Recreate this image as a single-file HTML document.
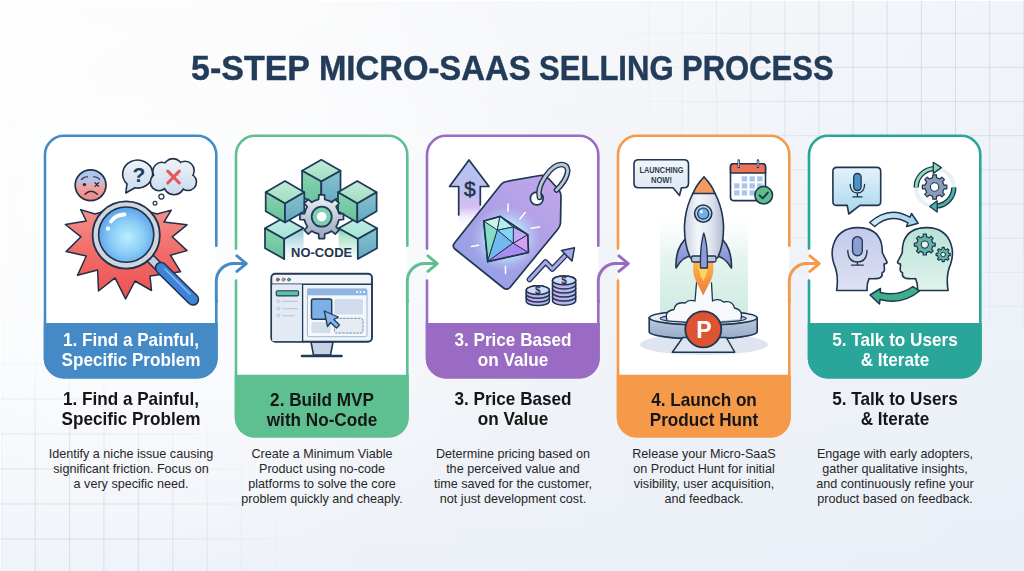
<!DOCTYPE html>
<html><head><meta charset="utf-8">
<style>
html,body{margin:0;padding:0;}
body{width:1024px;height:571px;overflow:hidden;position:relative;font-family:"Liberation Sans",sans-serif;
background:linear-gradient(to bottom,rgba(230,236,246,0) 0%,rgba(230,236,246,0.62) 100%),linear-gradient(to right,#fdfdfd 0%,#f7f8fa 45%,#f1f4f9 100%);}
#bg{position:absolute;left:0;top:0;width:1024px;height:571px;background:radial-gradient(ellipse 480px 380px at 120px 220px,rgba(255,255,255,0.85) 0%,rgba(255,255,255,0.5) 50%,rgba(255,255,255,0) 100%);}
.grid{position:absolute;background-image:linear-gradient(to right,rgba(178,186,200,0.36) 1px,transparent 1px),linear-gradient(to bottom,rgba(178,186,200,0.36) 1px,transparent 1px);}
#g1{left:600px;top:0;width:424px;height:330px;background-size:34.15px 34.15px;background-position:13.6px 32.8px;-webkit-mask-image:radial-gradient(ellipse 420px 320px at 424px 40px,#000 50%,transparent 100%);}
#g2{left:0;top:330px;width:330px;height:241px;background-size:34.4px 35px;background-position:0.3px 33.5px;-webkit-mask-image:radial-gradient(ellipse 300px 230px at 0px 241px,#000 55%,transparent 100%);}
svg{position:absolute;left:0;top:0;}
.t{position:absolute;white-space:nowrap;text-align:center;}
.tw{position:absolute;top:48px;font-size:35px;font-weight:700;color:#233c5a;-webkit-text-stroke:0.45px #233c5a;line-height:40px;white-space:nowrap;transform-origin:0 0;}
.band{position:absolute;width:174px;text-align:center;font-weight:700;font-size:18.2px;line-height:19.9px;transform:scaleX(0.942);}
.hd{position:absolute;width:174px;text-align:center;font-weight:700;font-size:18.2px;line-height:19.9px;color:#161616;transform:scaleX(0.942);}
.ds{position:absolute;width:200px;text-align:center;font-size:12.6px;line-height:14.9px;color:#262626;}
</style></head>
<body>
<div id="bg"></div>
<div class="grid" id="g1"></div>
<div class="grid" id="g2"></div>
<div style="position:absolute;left:0;top:0;width:1024px;height:1px;background:#fff"></div>
<div style="position:absolute;left:0;top:0;width:1px;height:571px;background:rgba(255,255,255,0.9)"></div>

<svg width="1024" height="571" viewBox="0 0 1024 571">
  <!-- card backgrounds -->
  <g><rect x="45" y="135.8" width="171.3" height="241.4" rx="19" fill="#fff"/><rect x="236" y="135.8" width="171.3" height="300.5" rx="19" fill="#fff"/><rect x="427" y="135.8" width="171.3" height="241.4" rx="19" fill="#fff"/><rect x="618" y="135.8" width="171.3" height="300.5" rx="19" fill="#fff"/><rect x="809" y="135.8" width="171.3" height="241.4" rx="19" fill="#fff"/></g>
  <!-- bands -->
  <path d="M43.8 323 H217.8 V358.4 a20 20 0 0 1 -20 20 H63.8 a20 20 0 0 1 -20 -20 Z" fill="#448ac6"/>
  <path d="M234.8 374.7 H408.8 V417.5 a20 20 0 0 1 -20 20 H254.8 a20 20 0 0 1 -20 -20 Z" fill="#5ebf91"/>
  <path d="M425.8 323 H599.8 V358.4 a20 20 0 0 1 -20 20 H445.8 a20 20 0 0 1 -20 -20 Z" fill="#9a6bc2"/>
  <path d="M616.8 374.7 H790.8 V417.5 a20 20 0 0 1 -20 20 H636.8 a20 20 0 0 1 -20 -20 Z" fill="#f49a48"/>
  <path d="M807.8 323 H981.8 V358.4 a20 20 0 0 1 -20 20 H827.8 a20 20 0 0 1 -20 -20 Z" fill="#2aa59a"/>


  <defs>
    <linearGradient id="faceG" x1="0" y1="0" x2="0" y2="1">
      <stop offset="0" stop-color="#a8c6f2"/><stop offset="0.35" stop-color="#b9c3e6"/><stop offset="0.55" stop-color="#f0a4a2"/><stop offset="1" stop-color="#f28282"/>
    </linearGradient>
    <linearGradient id="burstG" x1="0" y1="0" x2="0" y2="1">
      <stop offset="0" stop-color="#f5948e"/><stop offset="0.5" stop-color="#f16c69"/><stop offset="1" stop-color="#ec5150"/>
    </linearGradient>
    <radialGradient id="lensG" cx="0.52" cy="0.55" r="0.6">
      <stop offset="0" stop-color="#b9eefe"/><stop offset="0.5" stop-color="#8bcdf6"/><stop offset="1" stop-color="#4f97e6"/>
    </radialGradient>
    <linearGradient id="cloudG" gradientUnits="userSpaceOnUse" x1="0" y1="160" x2="0" y2="194"><stop offset="0" stop-color="#eef3f9"/><stop offset="1" stop-color="#c9dbed"/></linearGradient>
    <linearGradient id="bubG" x1="0" y1="0" x2="0" y2="1">
      <stop offset="0" stop-color="#eef3f9"/><stop offset="1" stop-color="#c9dbed"/>
    </linearGradient>
  </defs>
  <g id="ic1" stroke="#1f3048" stroke-linejoin="round" stroke-linecap="round">
    <polygon points="95,214 80.7,209.6 86.3,221 65.3,224.5 81,236.8 66.1,251.6 86.3,256 77.5,275.3 97.6,270 98.5,291 115,277.9 125.6,298.9 135,281 151.5,290.5 150,276 180.5,271.7 170.4,255.2 187,250.6 172.2,236.8 187,224.8 164,222 171.3,210.1 157,214 126,205" fill="url(#burstG)" stroke-width="1.5"/>
    <circle cx="90.6" cy="185.2" r="15.4" fill="url(#faceG)" stroke-width="1.7"/>
    <path d="M81.5 179.5 Q84 176.5 87.5 176.8 M93.8 176.8 Q97.3 176.5 99.7 179.5" fill="none" stroke-width="1.2"/>
    <circle cx="84.4" cy="184.6" r="1.7" fill="#1f3048" stroke="none"/>
    <path d="M95 182.8 L98.6 186.4 M98.6 182.8 L95 186.4" stroke-width="1.3"/>
    <path d="M85 194.3 Q91 188.3 97.4 194.3" fill="none" stroke-width="1.5"/>
    <path d="M125.8 193 L127 183.9 A15 14 0 1 1 134.9 187.8 Z" fill="url(#bubG)" stroke-width="1.6"/>
    <text x="138.8" y="182.3" font-family="Liberation Sans" font-weight="700" font-size="21" text-anchor="middle" fill="#1f3b5e" stroke="none">?</text>
    <g><circle cx="159" cy="182" r="7.5" fill="#1f3048" stroke="#1f3048" stroke-width="4"/><circle cx="162" cy="171.5" r="8" fill="#1f3048" stroke="#1f3048" stroke-width="4"/><circle cx="173" cy="168.3" r="8.5" fill="#1f3048" stroke="#1f3048" stroke-width="4"/><circle cx="185" cy="170.5" r="8" fill="#1f3048" stroke="#1f3048" stroke-width="4"/><circle cx="188" cy="182" r="7.3" fill="#1f3048" stroke="#1f3048" stroke-width="4"/><circle cx="174" cy="184.2" r="9.3" fill="#1f3048" stroke="#1f3048" stroke-width="4"/></g><g fill="url(#cloudG)" stroke="none"><circle cx="159" cy="182" r="7.9"/><circle cx="162" cy="171.5" r="8.4"/><circle cx="173" cy="168.3" r="8.9"/><circle cx="185" cy="170.5" r="8.4"/><circle cx="188" cy="182" r="7.7"/><circle cx="174" cy="184.2" r="9.7"/></g>
    <path d="M167.8 171.2 L179.3 183 M179.3 171.2 L167.8 183" stroke="#e8565b" stroke-width="3.1"/>
    <circle cx="161.4" cy="196.6" r="2.5" fill="#fff" stroke-width="1.2"/>
    <circle cx="155" cy="203.2" r="1.9" fill="#fff" stroke-width="1.2"/>
    <path d="M150.5 258.5 L159 267" stroke="#1f3048" stroke-width="10"/>
    <path d="M150.5 258.5 L159 267" stroke="#c3ccd8" stroke-width="7"/>
    <path d="M161 268 L193 299.5" stroke="#1f3048" stroke-width="12.5"/>
    <path d="M161 268 L193 299.5" stroke="#3f83d8" stroke-width="9.5"/>
    <path d="M165 269 L190 294" stroke="#8cbaf0" stroke-width="1.6"/>
    <circle cx="126.2" cy="235" r="33.6" fill="#cdd5e0" stroke-width="1.8"/>
    <circle cx="126.2" cy="234.6" r="27.6" fill="url(#lensG)" stroke-width="1.6"/>
    <path d="M111 221.5 Q116 214.5 124.5 214.5" fill="none" stroke="#fff" stroke-width="3.8"/>
    <circle cx="108" cy="228.6" r="2.2" fill="#fff" stroke="none"/>
  </g>


  <defs>
    <linearGradient id="cTop" x1="0" y1="0" x2="0" y2="1"><stop offset="0" stop-color="#c4ecd9"/><stop offset="1" stop-color="#9fdcc0"/></linearGradient>
    <linearGradient id="cL" x1="0" y1="0" x2="0" y2="1"><stop offset="0" stop-color="#86d5b0"/><stop offset="1" stop-color="#66c09a"/></linearGradient>
    <linearGradient id="cR" x1="0" y1="0" x2="0" y2="1"><stop offset="0" stop-color="#86c2d0"/><stop offset="1" stop-color="#66a7c0"/></linearGradient>
    <linearGradient id="cTop2" x1="0" y1="0" x2="0" y2="1"><stop offset="0" stop-color="#bfeee6"/><stop offset="1" stop-color="#a4e2d6"/></linearGradient>
    <linearGradient id="gearG" x1="0" y1="0" x2="0" y2="1"><stop offset="0" stop-color="#eef1f7"/><stop offset="1" stop-color="#98a4bd"/></linearGradient>
    <linearGradient id="fadeR" x1="0" y1="0" x2="0" y2="1"><stop offset="0" stop-color="#8cc6d3"/><stop offset="0.55" stop-color="#d5eaf0"/><stop offset="1" stop-color="#ffffff"/></linearGradient>
    <linearGradient id="fadeL" x1="0" y1="0" x2="0" y2="1"><stop offset="0" stop-color="#8ad6b2"/><stop offset="0.55" stop-color="#d3efe2"/><stop offset="1" stop-color="#ffffff"/></linearGradient>
    <linearGradient id="fadeW" x1="0" y1="0" x2="0" y2="1"><stop offset="0" stop-color="#fff" stop-opacity="0"/><stop offset="0.45" stop-color="#fff" stop-opacity="0.9"/><stop offset="1" stop-color="#fff"/></linearGradient>
  </defs>
  <g id="ic2" stroke="#1f3b57" stroke-width="1.75" stroke-linejoin="round" stroke-linecap="round">
    <polygon points="284.2,217.5 303.5,228.3 284.2,239 265,228.3" fill="url(#cTop2)"/><polygon points="265,228.3 284.2,239 284.2,259 265,248.3" fill="url(#cL)"/><polygon points="284.2,239 303.5,228.3 303.5,248.3 284.2,259" fill="url(#fadeR)" stroke="none"/><path d="M284.2 239 L303.5 228.3 M284.2 239 V259" fill="none"/>
    <polygon points="357.8,217.5 377,228.3 357.8,239 338.5,228.3" fill="url(#cTop2)"/><polygon points="338.5,228.3 357.8,239 357.8,259 338.5,248.3" fill="url(#fadeL)" stroke="none"/><polygon points="357.8,239 377,228.3 377,248.3 357.8,259" fill="url(#cR)"/><path d="M338.5 228.3 L357.8 239" fill="none"/>
    <rect x="304" y="236" width="34" height="24" fill="url(#fadeW)" stroke="none"/>
    <polygon points="321.3,159.8 340.5,170.70000000000002 321.3,181.60000000000002 302.1,170.70000000000002" fill="url(#cTop)"/><polygon points="302.1,170.70000000000002 321.3,181.60000000000002 321.3,207.60000000000002 302.1,196.70000000000002" fill="url(#cL)"/><polygon points="321.3,181.60000000000002 340.5,170.70000000000002 340.5,196.70000000000002 321.3,207.60000000000002" fill="url(#cR)"/>
    <polygon points="285,181 304.3,192.2 285,203.4 265.7,192.2" fill="url(#cTop)"/><polygon points="265.7,192.2 285,203.4 285,222.4 265.7,211.2" fill="url(#cL)"/><polygon points="285,203.4 304.3,192.2 304.3,211.2 285,222.4" fill="url(#cR)"/>
    <polygon points="357.3,181 376.6,192.2 357.3,203.4 338.0,192.2" fill="url(#cTop)"/><polygon points="338.0,192.2 357.3,203.4 357.3,222.4 338.0,211.2" fill="url(#cL)"/><polygon points="357.3,203.4 376.6,192.2 376.6,211.2 357.3,222.4" fill="url(#cR)"/>
    <polygon points="338.1,210.7 338.9,213.6 343.5,213.9 343.5,219.5 338.9,219.8 337.6,224.0 336.1,226.7 339.1,230.2 335.2,234.1 331.7,231.1 327.7,233.1 324.8,233.9 324.5,238.5 318.9,238.5 318.6,233.9 314.4,232.6 311.7,231.1 308.2,234.1 304.3,230.2 307.3,226.7 305.3,222.7 304.5,219.8 299.9,219.5 299.9,213.9 304.5,213.6 305.8,209.4 307.3,206.7 304.3,203.2 308.2,199.3 311.7,202.3 315.7,200.3 318.6,199.5 318.9,194.9 324.5,194.9 324.8,199.5 329.0,200.8 331.7,202.3 335.2,199.3 339.1,203.2 336.1,206.7" fill="url(#gearG)"/>
    <circle cx="321.7" cy="216.7" r="10" fill="#7fd0b2"/>
    <circle cx="321.7" cy="216.7" r="4.8" fill="#fff" stroke="none"/>
    <text x="321.6" y="257" font-family="Liberation Sans" font-weight="700" font-size="13.6" text-anchor="middle" fill="#1f3550" stroke="none" textLength="61" lengthAdjust="spacingAndGlyphs">NO-CODE</text>
  </g>
  <g id="ic2b" stroke="#1f3b57" stroke-width="1.6" stroke-linejoin="round" stroke-linecap="round">
    <path d="M311 342 L313.5 355 H330.5 L333 342 Z" fill="#c4d2e4"/>
    <path d="M302 356 H341.5" stroke-width="2.6"/>
    <rect x="271.3" y="273.8" width="100.7" height="68" rx="4" fill="#f1f5fa" stroke-width="1.9"/>
    <path d="M271.3 284.3 H372" stroke-width="1.5"/>
    <rect x="272.2" y="284.3" width="30.4" height="56.8" fill="#e3eaf4" stroke="none"/>
    <path d="M302.6 284.3 V341.8" stroke-width="1.3"/>
    <circle cx="277.8" cy="279.6" r="1.5" fill="#e06060" stroke-width="0.6"/>
    <circle cx="283.5" cy="279.6" r="1.5" fill="#e8c24a" stroke-width="0.6"/>
    <circle cx="289" cy="279.6" r="1.5" fill="#5cb87e" stroke-width="0.6"/>
    <rect x="276.2" y="290.7" width="22.4" height="5.2" rx="1.5" fill="#5cc0a4" stroke-width="1.1"/>
    <g fill="#c8d4e4" stroke="none"><circle cx="278.4" cy="301.3" r="2.1"/><circle cx="278.4" cy="308.6" r="2.1"/><circle cx="278.4" cy="315.6" r="2.1"/></g>
    <path d="M283 301.3 H297.5 M283 308.6 H297.5 M283 315.6 H294" stroke="#b9c8da" stroke-width="1.2"/>
    <rect x="307.4" y="288.9" width="59.6" height="47.8" rx="1.5" fill="#f4f7fb" stroke="#9fb5d2" stroke-width="1"/>
    <rect x="307.4" y="288.9" width="59.6" height="6.4" fill="#8fb5e3" stroke="none"/>
    <g fill="#fff" stroke="none"><circle cx="357" cy="292.1" r="1"/><circle cx="360.5" cy="292.1" r="1"/><circle cx="364" cy="292.1" r="1"/></g>
    <rect x="334.4" y="299" width="28.6" height="15.6" rx="2" fill="#d0dcec" stroke="none"/>
    <rect x="311.5" y="322" width="19.3" height="11" rx="2" fill="#d3deeb" stroke="none"/>
    <rect x="334.4" y="318.3" width="28.6" height="14.7" rx="2" fill="#e6ecf4" stroke="#7e92ad" stroke-width="1" stroke-dasharray="2 1.6"/>
    <rect x="311.5" y="299" width="20.2" height="20.2" rx="2" fill="#7db0e7" stroke-width="1.5"/>
    <path d="M324.3 311 L327.5 326.5 L330.5 322.5 L336.5 328 L339.5 325 L333.8 319.5 L338.3 317 Z" fill="#86b6ec" stroke-width="1.3"/>
  </g>


  <defs>
    <linearGradient id="tagG" x1="0.9" y1="0" x2="0.1" y2="1"><stop offset="0" stop-color="#c2a6ea"/><stop offset="0.5" stop-color="#ab9fe6"/><stop offset="1" stop-color="#8ea2e6"/></linearGradient>
    <linearGradient id="upG" x1="0" y1="0" x2="0" y2="1"><stop offset="0" stop-color="#b4c2f0"/><stop offset="0.45" stop-color="#bfc0ef"/><stop offset="0.7" stop-color="#c9a9ee" stop-opacity="0.75"/><stop offset="1" stop-color="#ffffff" stop-opacity="0"/></linearGradient>
    <radialGradient id="glowG" cx="0.5" cy="0.5" r="0.5"><stop offset="0" stop-color="#d6fbff"/><stop offset="0.5" stop-color="#bdeefc" stop-opacity="0.85"/><stop offset="1" stop-color="#b3c6f3" stop-opacity="0"/></radialGradient>
    <linearGradient id="gemG" x1="0" y1="0" x2="1" y2="1"><stop offset="0" stop-color="#7fe3d2"/><stop offset="0.45" stop-color="#6cc6ee"/><stop offset="0.8" stop-color="#a78bf0"/><stop offset="1" stop-color="#d47be0"/></linearGradient>
    <linearGradient id="coinG" x1="0" y1="0" x2="1" y2="0"><stop offset="0" stop-color="#c7a9e8"/><stop offset="1" stop-color="#b3bdef"/></linearGradient>
  </defs>
  <g id="ic3" stroke="#1f3550" stroke-width="1.7" stroke-linejoin="round" stroke-linecap="round">
    <path d="M469 160 L489 186.5 H480.3 V228 H458.7 V186.5 H449.5 Z" fill="url(#upG)" stroke="none"/>
    <path d="M458.7 215 V186.5 H449.5 L469 160 L489 186.5 H480.3 V205" fill="none"/>
    <text x="469.8" y="196" font-family="Liberation Sans" font-weight="400" font-size="21" text-anchor="middle" fill="#1f3550" stroke="#1f3550" stroke-width="0.5">$</text>
    <path d="M506.5 181.5 L540 175.5 Q545 175 549 179 L559 190 Q561 193 561 197 L560.5 223 Q560.3 226 558 229 L510 287.5 Q507 290.5 503.5 288 L455.5 249.5 Q451.5 246.5 454.5 243 L501 184.5 Q503 182 506.5 181.5 Z" fill="url(#tagG)"/>
    <ellipse cx="506" cy="239" rx="35" ry="33" fill="url(#glowG)" stroke="none"/>
    <path d="M508.1 204 V211.2 M525.2 212.5 L519.9 219 M531.1 228.2 L539.6 226.9 M471.3 246.6 L478.5 245.3 M505.5 266.3 V273.6" stroke="#ffffff" stroke-width="1.5"/>
    <polygon points="483.8,221 500.2,216.4 497.6,230.2" fill="#cdf3e8" stroke-width="1"/><polygon points="500.2,216.4 513.3,227 497.6,230.2" fill="#b2eef0" stroke-width="1"/><polygon points="500.2,216.4 527.8,234.8 513.3,227" fill="#a2e2f3" stroke-width="1"/><polygon points="513.3,227 527.8,234.8 513.3,243.3" fill="#c3a9f3" stroke-width="1"/><polygon points="497.6,230.2 513.3,227 513.3,243.3" fill="#84d6f1" stroke-width="1"/><polygon points="483.8,221 497.6,230.2 487.7,261.7" fill="#86dcc6" stroke-width="1"/><polygon points="497.6,230.2 513.3,243.3 487.7,261.7" fill="#72b9ef" stroke-width="1"/><polygon points="513.3,243.3 527.8,234.8 528.5,252.5" fill="#d4a0f1" stroke-width="1"/><polygon points="513.3,243.3 528.5,252.5 487.7,261.7" fill="#a98cf1" stroke-width="1"/>
    <polygon points="483.8,221 500.2,216.4 527.8,234.8 528.5,252.5 487.7,261.7" fill="none" stroke-width="1.7"/>
    <circle cx="536.8" cy="198.5" r="6.4" fill="#fff"/>
    <path d="M539.5 197.5 C 536 186, 551 164, 562 164.5 C 572 165.5, 568 179, 556.5 190" fill="none" stroke="#1f3550" stroke-width="5.6"/>
    <path d="M539.5 197.5 C 536 186, 551 164, 562 164.5 C 572 165.5, 568 179, 556.5 190" fill="none" stroke="#bcc7d5" stroke-width="2.8"/>
    <path d="M529.5 279.5 L545.5 262 L552.3 269 L567 253.8" fill="none" stroke="#1f3550" stroke-width="5.6"/>
    <path d="M529.5 279.5 L545.5 262 L552.3 269 L567 253.8" fill="none" stroke="#a8a6ec" stroke-width="3.1"/>
    <path d="M561.5 250.5 L574.5 247.8 L572 261 Z" fill="#a8a6ec" stroke-width="1.5"/>
    <g stroke-width="1.5"><path d="M526.2 297.5 v3.7 a11.6 4.4 0 0 0 23.2 0 v-3.7 a11.6 4.4 0 0 0 -23.2 0 Z" fill="url(#coinG)"/><path d="M526.2 293.9 v3.7 a11.6 4.4 0 0 0 23.2 0 v-3.7 a11.6 4.4 0 0 0 -23.2 0 Z" fill="url(#coinG)"/><path d="M526.2 290.2 v3.7 a11.6 4.4 0 0 0 23.2 0 v-3.7 a11.6 4.4 0 0 0 -23.2 0 Z" fill="url(#coinG)"/><ellipse cx="537.8" cy="290.2" rx="11.6" ry="4.4" fill="#d3dbf7"/><path d="M552.5 296.7 v4.1 a11.6 4.4 0 0 0 23.2 0 v-4.1 a11.6 4.4 0 0 0 -23.2 0 Z" fill="url(#coinG)"/><path d="M552.5 292.6 v4.1 a11.6 4.4 0 0 0 23.2 0 v-4.1 a11.6 4.4 0 0 0 -23.2 0 Z" fill="url(#coinG)"/><path d="M552.5 288.6 v4.1 a11.6 4.4 0 0 0 23.2 0 v-4.1 a11.6 4.4 0 0 0 -23.2 0 Z" fill="url(#coinG)"/><path d="M552.5 284.5 v4.1 a11.6 4.4 0 0 0 23.2 0 v-4.1 a11.6 4.4 0 0 0 -23.2 0 Z" fill="url(#coinG)"/><path d="M552.5 280.4 v4.1 a11.6 4.4 0 0 0 23.2 0 v-4.1 a11.6 4.4 0 0 0 -23.2 0 Z" fill="url(#coinG)"/><ellipse cx="564.1" cy="280.4" rx="11.6" ry="4.4" fill="#d3dbf7"/></g><text x="537.8" y="293.6" font-family="Liberation Sans" font-weight="700" font-size="10" text-anchor="middle" fill="#1f3550" stroke="none">$</text><text x="564.1" y="283.8" font-family="Liberation Sans" font-weight="700" font-size="10" text-anchor="middle" fill="#1f3550" stroke="none">$</text>
  </g>


  <defs>
    <linearGradient id="mintG" x1="0" y1="0" x2="0" y2="1"><stop offset="0" stop-color="#ffffff" stop-opacity="0"/><stop offset="0.45" stop-color="#e6f5ef"/><stop offset="1" stop-color="#cdebe2"/></linearGradient>
    <linearGradient id="bodyG" x1="0" y1="0" x2="1" y2="0"><stop offset="0" stop-color="#c9d2e2"/><stop offset="0.35" stop-color="#f4f6fa"/><stop offset="0.7" stop-color="#dde3ee"/><stop offset="1" stop-color="#aeb9cf"/></linearGradient>
    <linearGradient id="finG" x1="0" y1="0" x2="0" y2="1"><stop offset="0" stop-color="#a9b4e4"/><stop offset="1" stop-color="#7d89cc"/></linearGradient>
    <linearGradient id="flameG" x1="0" y1="0" x2="0" y2="1"><stop offset="0" stop-color="#fbb44e"/><stop offset="1" stop-color="#ef7d3a"/></linearGradient>
    <linearGradient id="platG" x1="0" y1="0" x2="0" y2="1"><stop offset="0" stop-color="#bccbe0"/><stop offset="1" stop-color="#94abc9"/></linearGradient>
    <linearGradient id="bub4G" x1="0" y1="0" x2="0" y2="1"><stop offset="0" stop-color="#f1f5fa"/><stop offset="1" stop-color="#dbe6f2"/></linearGradient>
  </defs>
  <g id="ic4" stroke="#1f3550" stroke-width="1.6" stroke-linejoin="round" stroke-linecap="round">
    <rect x="660" y="206" width="88" height="110" fill="url(#mintG)" stroke="none"/>
    <ellipse cx="704" cy="344.5" rx="64" ry="10.5" fill="#dfe5ef" stroke="none"/>
    <path d="M649.2 317.8 V331.8 A54 7.2 0 0 0 757.2 331.8 V317.8" fill="url(#platG)"/>
    <ellipse cx="703.2" cy="317.8" rx="54" ry="7.2" fill="#e4ebf4"/>
    <ellipse cx="703.2" cy="318.4" rx="43" ry="4.2" fill="#b8c7db" stroke-width="1.3"/>
    <path d="M667 320 q-3 -9 7 -10.5 q1.5 -8 11 -6.5 q4 -4 10 -2 L696.5 283 H711.5 L712.5 301 q6 -3 11 1 q9 -2 11 6 q9 2 6.5 11 Q703 323 667 320 Z" fill="#f7f9fc" stroke="none"/>
    <path d="M667 320 q-3 -9 7 -10.5 q1.5 -8 11 -6.5 q4 -4 10 -2 L696.5 283 M711.5 283 L712.5 301 q6 -3 11 1 q9 -2 11 6 q9 2 6.5 11" fill="none" stroke-width="1.3"/>
    <path d="M682.8 337.5 H726.3 L734.7 352.2 H672.3 Z" fill="#dce6f2" stroke-width="1.5"/>
    <path d="M693.5 262 Q692 272 695.5 280 Q699 287 703.2 295.5 Q707.5 287 711 280 Q714.5 272 713 262 Z" fill="url(#flameG)" stroke="none"/>
    <path d="M698.5 263 Q698 272 703.2 281 Q708.5 272 708 263 Z" fill="#ffd45c" stroke="none"/>
    <path d="M689 236 Q675 246 676 268 Q683 256 692 256 Z" fill="url(#finG)"/>
    <path d="M718.5 236 Q732 246 731.5 268 Q724 256 715.5 256 Z" fill="url(#finG)"/>
    <path d="M704 177 Q686 198 684.5 225 Q684 245 690.5 258 H717.5 Q724 245 723.5 225 Q722 198 704 177 Z" fill="url(#bodyG)"/>
    <path d="M704 177 Q696 185 693.2 193.5 H714.8 Q712 185 704 177 Z" fill="#f39a61"/>
    <rect x="691.5" y="256" width="24.5" height="6" rx="1.5" fill="#b9c6dc" stroke-width="1.3"/>
    <path d="M703.8 233 Q700 245 700.5 268 H707.3 Q708 245 703.8 233 Z" fill="#8e9bd6" stroke-width="1.3"/>
    <circle cx="703.2" cy="213.6" r="8.6" fill="#b8cde8"/>
    <circle cx="703.2" cy="213.6" r="5.6" fill="#6fb0e6" stroke-width="1.2"/>
    <circle cx="701.3" cy="211.7" r="1.6" fill="#e6f4ff" stroke="none"/>
    <circle cx="703.3" cy="329.3" r="18" fill="#de5330" stroke-width="1.8"/>
    <text x="704" y="337.5" font-family="Liberation Sans" font-weight="700" font-size="23" text-anchor="middle" fill="#ffffff" stroke="none">P</text>
    <path d="M638.5 159.8 H684 Q688.5 159.8 688.5 164.3 V183.3 Q688.5 187.8 684 187.8 H681.5 L679.5 195.5 L673 187.8 H638.5 Q634 187.8 634 183.3 V164.3 Q634 159.8 638.5 159.8 Z" fill="url(#bub4G)"/>
    <text x="661.5" y="172.9" font-family="Liberation Sans" font-weight="700" font-size="8.8" text-anchor="middle" fill="#343c4a" stroke="none" textLength="44" lengthAdjust="spacingAndGlyphs">LAUNCHING</text>
    <text x="661.5" y="182.5" font-family="Liberation Sans" font-weight="700" font-size="8.8" text-anchor="middle" fill="#343c4a" stroke="none" textLength="21" lengthAdjust="spacingAndGlyphs">NOW!</text>
    <rect x="730.5" y="163.8" width="35" height="36.8" rx="3" fill="#ffffff"/>
    <path d="M730.5 173 V166.8 Q730.5 163.8 733.5 163.8 H762.5 Q765.5 163.8 765.5 166.8 V173 Z" fill="#ef7159"/>
    <path d="M738.7 160.5 V167 M758 160.5 V167" stroke-width="2.4"/>
    <path d="M738.7 160.9 V166.6 M758 160.9 V166.6" stroke="#e8edf4" stroke-width="0.9"/>
    <g fill="#a9c6e8" stroke="none"><rect x="741.8" y="176.3" width="5.4" height="5.2"/><rect x="749.5" y="176.3" width="5.4" height="5.2"/><rect x="757.2" y="176.3" width="5.4" height="5.2"/><rect x="734.1" y="183.3" width="5.4" height="5.2"/><rect x="741.8" y="183.3" width="5.4" height="5.2"/><rect x="749.5" y="183.3" width="5.4" height="5.2"/><rect x="757.2" y="183.3" width="5.4" height="5.2"/><rect x="734.1" y="190.3" width="5.4" height="5.2"/><rect x="741.8" y="190.3" width="5.4" height="5.2"/><rect x="749.5" y="190.3" width="5.4" height="5.2"/></g>
    <circle cx="763.7" cy="195.2" r="8.8" fill="#5dbf88"/>
    <path d="M759.6 195.4 L762.7 198.4 L767.8 192.6" fill="none" stroke-width="2"/>
  </g>


  <defs>
    <linearGradient id="micBubG" x1="0" y1="0" x2="0" y2="1"><stop offset="0" stop-color="#e3f3fa"/><stop offset="1" stop-color="#a9d6ec"/></linearGradient>
    <linearGradient id="headLG" x1="0" y1="0" x2="0" y2="1"><stop offset="0" stop-color="#c3cae9"/><stop offset="1" stop-color="#dde1f3"/></linearGradient>
    <linearGradient id="headRG" x1="0" y1="0" x2="0" y2="1"><stop offset="0" stop-color="#b7e2d6"/><stop offset="1" stop-color="#e1f3ee"/></linearGradient>
    <linearGradient id="arrTG" x1="0" y1="0" x2="1" y2="0"><stop offset="0" stop-color="#d3ecf7"/><stop offset="1" stop-color="#9fd0ea"/></linearGradient>
  </defs>
  <g id="ic5" stroke="#1f3550" stroke-width="1.6" stroke-linejoin="round" stroke-linecap="round">
    <path d="M837 167.4 H876.7 Q880.7 167.4 880.7 171.4 V201.4 Q880.7 205.4 876.7 205.4 H859.9 L848.8 214 L847.2 205.4 H837 Q832.9 205.4 832.9 201.4 V171.4 Q832.9 167.4 837 167.4 Z" fill="url(#micBubG)"/>
    <rect x="853.7" y="173.5" width="7.4" height="17" rx="3.7" fill="#4f94c8" stroke-width="1.3"/>
    <path d="M850.2 184.5 Q850.5 193 857.4 193 Q864.3 193 864.6 184.5 M857.4 193 V196.8 M852.8 196.8 H862" fill="none" stroke-width="1.3"/>
    <circle cx="935" cy="187.4" r="19" fill="none" stroke="#e6f0f5" stroke-width="4"/>
    <path d="M916.2 187.4 A18.8 18.8 0 0 1 933.8 168.6" fill="none" stroke="#1f3550" stroke-width="5.4" stroke-linecap="butt"/>
    <path d="M916.2 187.4 A18.8 18.8 0 0 1 933.8 168.6" fill="none" stroke="#8ddcb5" stroke-width="2.8" stroke-linecap="butt"/>
    <path d="M933.3 162.3 L941.3 167.6 L933.3 173.4 Z" fill="#8ddcb5" stroke-width="1.3"/>
    <path d="M953.8 187.4 A18.8 18.8 0 0 1 936.6 206.1" fill="none" stroke="#1f3550" stroke-width="5.4" stroke-linecap="butt"/>
    <path d="M953.8 187.4 A18.8 18.8 0 0 1 936.6 206.1" fill="none" stroke="#4bb5a5" stroke-width="2.8" stroke-linecap="butt"/>
    <path d="M937.2 200.8 L929.8 206.4 L937.2 212 Z" fill="#4bb5a5" stroke-width="1.3"/>
    <path d="M944.0,185.1 L946.8,185.2 L946.8,188.8 L944.0,188.9 L942.6,192.3 L944.5,194.3 L941.9,196.9 L939.9,195.0 L936.5,196.4 L936.4,199.2 L932.8,199.2 L932.7,196.4 L929.3,195.0 L927.3,196.9 L924.7,194.3 L926.6,192.3 L925.2,188.9 L922.4,188.8 L922.4,185.2 L925.2,185.1 L926.6,181.7 L924.7,179.7 L927.3,177.1 L929.3,179.0 L932.7,177.6 L932.8,174.8 L936.4,174.8 L936.5,177.6 L939.9,179.0 L941.9,177.1 L944.5,179.7 L942.6,181.7 Z" fill="#8a9cb6" stroke-width="1.2"/>
    <circle cx="934.6" cy="187" r="4.2" fill="#fff" stroke-width="1.1"/>
    <path d="M869.7 222.5 Q889 205 910 217.2 L911.5 213.5 L918.2 223.2 L906.5 226.5 L908 222.8 Q890 212.5 874.7 226.5 Z" fill="url(#arrTG)" stroke-width="1.5"/>
    <g transform="translate(0,290.5) scale(1,1.035) translate(0,-290.5)"><path d="M836.6 290.5 Q839 276 834 265 Q830.5 255 833.5 246 Q839 230 857.5 229.8 Q876 229.6 881 243.5 Q882.5 249 882.3 254 L887 262.8 Q887.5 264.5 884 265 L884.5 270.5 Q884.5 272.5 882 273.5 Q883 277 879.5 278.5 Q875 279.5 869 279 Q866.5 285 867.2 290.5 Z" fill="url(#headLG)"/>
    <rect x="852.5" y="238.4" width="9.8" height="18.5" rx="4.9" fill="#8b9dd3" stroke-width="1.3"/>
    <path d="M847.8 251.8 Q848 263 857.4 263 Q866.8 263 867 251.8 M857.4 263 V266 M851.5 266 H863.3" fill="none" stroke-width="1.4"/>
    <path d="M948.1 290.5 Q945.6 276 950.6 265 Q954.1 255 951.1 246 Q945.6 230 927.1 229.8 Q908.6 229.6 903.6 243.5 Q902.1 249 902.3 254 L897.6 262.8 Q897.1 264.5 900.6 265 L900.1 270.5 Q900.1 272.5 902.6 273.5 Q901.6 277 905.1 278.5 Q909.6 279.5 915.6 279 Q918.1 285 917.4 290.5 Z" fill="url(#headRG)"/></g>
    <path d="M932.8,243.0 L935.2,243.0 L935.2,246.2 L932.8,246.2 L931.6,249.2 L933.2,250.8 L931.0,253.0 L929.4,251.4 L926.4,252.6 L926.4,255.0 L923.2,255.0 L923.2,252.6 L920.2,251.4 L918.6,253.0 L916.4,250.8 L918.0,249.2 L916.8,246.2 L914.4,246.2 L914.4,243.0 L916.8,243.0 L918.0,240.0 L916.4,238.4 L918.6,236.2 L920.2,237.8 L923.2,236.6 L923.2,234.2 L926.4,234.2 L926.4,236.6 L929.4,237.8 L931.0,236.2 L933.2,238.4 L931.6,240.0 Z" fill="#64b3a5" stroke-width="1.2"/>
    <circle cx="924.8" cy="244.6" r="3.6" fill="#e3f4ef" stroke-width="1.1"/>
    <path d="M948.7,253.4 L950.3,253.4 L950.3,255.6 L948.7,255.6 L947.9,257.6 L949.0,258.8 L947.5,260.3 L946.3,259.2 L944.3,260.0 L944.3,261.6 L942.1,261.6 L942.1,260.0 L940.1,259.2 L938.9,260.3 L937.4,258.8 L938.5,257.6 L937.7,255.6 L936.1,255.6 L936.1,253.4 L937.7,253.4 L938.5,251.4 L937.4,250.2 L938.9,248.7 L940.1,249.8 L942.1,249.0 L942.1,247.4 L944.3,247.4 L944.3,249.0 L946.3,249.8 L947.5,248.7 L949.0,250.2 L947.9,251.4 Z" fill="#64b3a5" stroke-width="1.1"/>
    <circle cx="943.2" cy="254.5" r="2.3" fill="#e3f4ef" stroke-width="1"/>
    <path d="M919.5 291 Q902 305.5 880 299.5 L879.5 304 L870 295 L880.5 288.5 L880.3 292.5 Q898 297 913 286.5 Z" fill="#3fae8a" stroke-width="1.5"/>
  </g>

  <!-- borders + arrows -->
  <g fill="none" stroke-width="2.6" stroke-linecap="round" stroke-linejoin="round">
    <path d="M45 358.2 V154.8 A19 19 0 0 1 64 135.8 H197.3 A19 19 0 0 1 216.3 154.8 V245.7 M45 358.2 A19 19 0 0 0 64 377.2 H197.3 A19 19 0 0 0 216.3 358.2 V300" stroke="#448ac6"/>
    <path d="M236 248.6 V154.8 A19 19 0 0 1 255 135.8 H388.3 A19 19 0 0 1 407.3 154.8 V245.7 M236 280.6 V417.3 A19 19 0 0 0 255 436.3 H388.3 A19 19 0 0 0 407.3 417.3 V300" stroke="#5ebf91"/>
    <path d="M427 248.6 V154.8 A19 19 0 0 1 446 135.8 H579.3 A19 19 0 0 1 598.3 154.8 V245.7 M427 280.6 V358.2 A19 19 0 0 0 446 377.2 H579.3 A19 19 0 0 0 598.3 358.2 V300" stroke="#9a6bc2"/>
    <path d="M618 248.6 V154.8 A19 19 0 0 1 637 135.8 H770.3 A19 19 0 0 1 789.3 154.8 V245.7 M618 280.6 V417.3 A19 19 0 0 0 637 436.3 H770.3 A19 19 0 0 0 789.3 417.3 V300" stroke="#f49a48"/>
    <path d="M809 248.6 V154.8 A19 19 0 0 1 828 135.8 H961.3 A19 19 0 0 1 980.3 154.8 V358.2 A19 19 0 0 1 961.3 377.2 H828 A19 19 0 0 1 809 358.2 V280.6" stroke="#2aa59a"/>
  </g>
  <g fill="none" stroke-width="2.9" stroke-linecap="round" stroke-linejoin="round">
    <path d="M216.3 302 V281 A17.5 17.5 0 0 1 233.8 263.5 H246.1 M236.9 255.9 L246.3 263.6 L236.9 271.4" stroke="#448ac6"/>
    <path d="M407.3 302 V281 A17.5 17.5 0 0 1 424.8 263.5 H437.1 M427.9 255.9 L437.3 263.6 L427.9 271.4" stroke="#5ebf91"/>
    <path d="M598.3 302 V281 A17.5 17.5 0 0 1 615.8 263.5 H628.1 M618.9 255.9 L628.3 263.6 L618.9 271.4" stroke="#9a6bc2"/>
    <path d="M789.3 302 V281 A17.5 17.5 0 0 1 806.8 263.5 H819.1 M809.9 255.9 L819.3 263.6 L809.9 271.4" stroke="#f49a48"/>
  </g>
</svg>

<div class="tw" style="left:191.3px;transform:scaleX(0.971)">5-STEP</div><div class="tw" style="left:319.3px;transform:scaleX(0.938)">MICRO-SAAS</div><div class="tw" style="left:538.7px;transform:scaleX(0.887)">SELLING</div><div class="tw" style="left:682.4px;transform:scaleX(0.886)">PROCESS</div>

<div class="band" style="left:44px;top:331.1px;color:#fff">1. Find a Painful,<br>Specific Problem</div>
<div class="band" style="left:235px;top:390.6px;color:#161616">2. Build MVP<br>with No-Code</div>
<div class="band" style="left:426px;top:331.1px;color:#fff">3. Price Based<br>on Value</div>
<div class="band" style="left:617px;top:390.6px;color:#161616">4. Launch on<br>Product Hunt</div>
<div class="band" style="left:808px;top:331.1px;color:#fff">5. Talk to Users<br>&amp; Iterate</div>

<div class="hd" style="left:44px;top:390.2px">1. Find a Painful,<br>Specific Problem</div>
<div class="hd" style="left:426px;top:390.2px">3. Price Based<br>on Value</div>
<div class="hd" style="left:808px;top:390.2px">5. Talk to Users<br>&amp; Iterate</div>

<div class="ds" style="left:31px;top:447.2px">Identify a niche issue causing<br>significant friction. Focus on<br>a very specific need.</div>
<div class="ds" style="left:222px;top:447.2px">Create a Minimum Viable<br>Product using no-code<br>platforms to solve the core<br>problem quickly and cheaply.</div>
<div class="ds" style="left:413px;top:447.2px">Determine pricing based on<br>the perceived value and<br>time saved for the customer,<br>not just development cost.</div>
<div class="ds" style="left:604px;top:447.2px">Release your Micro-SaaS<br>on Product Hunt for initial<br>visibility, user acquisition,<br>and feedback.</div>
<div class="ds" style="left:795px;top:447.2px">Engage with early adopters,<br>gather qualitative insights,<br>and continuously refine your<br>product based on feedback.</div>

</body></html>
